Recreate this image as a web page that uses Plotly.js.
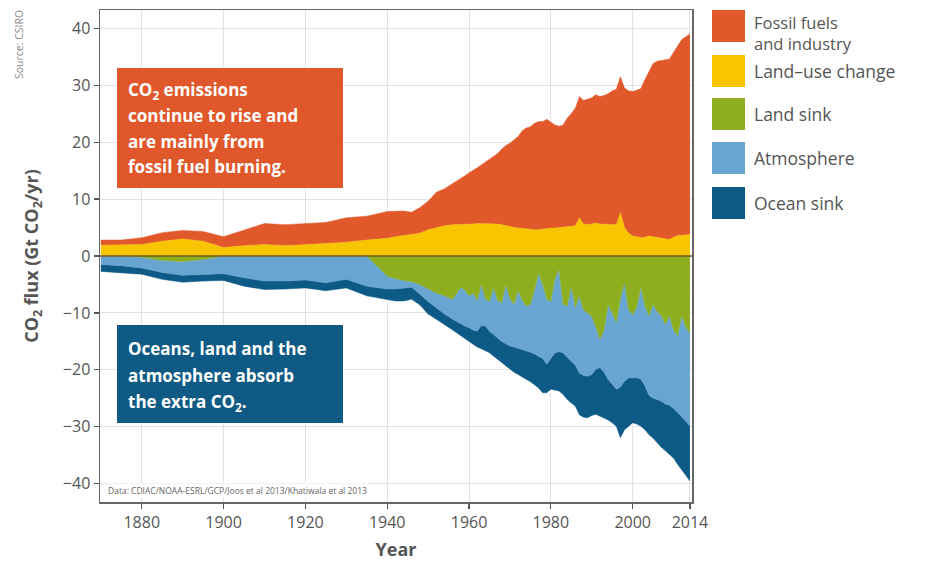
<!DOCTYPE html>
<html>
<head>
<meta charset="utf-8">
<script src="https://cdn.plot.ly/plotly-3.0.1.min.js"></script>
<style>
  html, body { margin: 0; padding: 0; background: #ffffff; }
  #chart { width: 932px; height: 561px; }
</style>
</head>
<body>
<div id="chart"></div>
<script>
// ---- Data (Gt CO2 / yr) ----
const years = [1870,1875,1880,1885,1890,1895,1900,1905,1910,1915,1920,1925,1930,1935,1940,
  1942,1944,1946,1948,1950,1952,1954,1956,1958,
  1959,1960,1961,1962,1963,1964,1965,1966,1967,1968,1969,1970,1971,1972,1973,1974,1975,1976,1977,1978,
  1979,1980,1981,1982,1983,1984,1985,1986,1987,1988,1989,1990,1991,1992,1993,1994,1995,1996,1997,1998,
  1999,2000,2001,2002,2003,2004,2005,2006,2007,2008,2009,2010,2011,2012,2013,2014];

const fossilFuels = [0.9,0.9,1.2,1.5,1.5,1.7,1.9,2.8,3.7,3.7,3.7,3.6,4.3,4.2,4.7,
  4.5,4.3,3.9,4.5,5.0,6.2,6.5,7.2,8.0,
  8.5,9.0,9.4,9.8,10.3,10.8,11.3,12.0,12.4,13.3,14.0,14.6,15.4,16.1,17.2,17.8,18.1,18.7,19.0,18.9,
  19.1,18.6,18.1,17.8,18.0,19.1,19.8,20.7,21.3,21.7,22.0,22.2,22.5,22.4,22.6,23.0,23.5,23.8,23.9,24.5,
  25.0,25.4,25.7,26.2,27.7,29.0,30.4,30.9,31.1,31.4,31.7,32.5,33.4,34.4,34.8,35.2];

const landUseChange = [1.9,1.9,2.0,2.6,3.0,2.6,1.5,1.8,2.0,1.8,2.0,2.3,2.4,2.8,3.1,
  3.4,3.6,3.8,4.0,4.6,5.0,5.3,5.5,5.5,
  5.6,5.6,5.6,5.7,5.7,5.7,5.7,5.6,5.6,5.5,5.4,5.2,5.0,4.9,4.8,4.7,4.6,4.6,4.6,4.7,
  4.9,4.9,4.9,5.0,5.0,5.1,5.2,5.3,6.7,5.6,5.5,5.6,5.8,5.6,5.6,5.5,5.5,5.5,7.6,5.0,
  4.0,3.5,3.4,3.2,3.3,3.5,3.4,3.3,3.2,3.0,2.9,3.3,3.6,3.6,3.7,3.8];

const landSink = [0,0,-0.2,-0.8,-1.0,-0.6,0,0,0,0,0,0,0,0,-3.5,
  -4.0,-4.3,-4.5,-5.0,-5.8,-6.5,-7.0,-7.6,-5.5,
  -6.0,-7.0,-6.5,-7.8,-5.0,-7.5,-8.0,-5.5,-7.8,-8.2,-5.0,-7.5,-8.5,-6.0,-7.8,-8.8,-8.5,-6.0,-3.0,-5.0,
  -7.6,-8.0,-4.0,-2.4,-8.5,-8.8,-5.3,-9.0,-7.0,-9.5,-10.0,-10.6,-12.5,-14.6,-13.0,-8.5,-10.0,-11.7,-7.5,-4.7,
  -9.5,-10.3,-9.0,-5.5,-8.8,-10.5,-8.5,-9.8,-10.5,-12.0,-10.5,-13.0,-14.0,-10.5,-12.5,-13.5];

const atmosphere = [-1.5,-1.7,-1.9,-2.1,-2.4,-2.7,-3.1,-3.8,-4.4,-4.4,-4.2,-4.7,-4.1,-5.3,-2.3,
  -1.8,-1.3,-1.0,-1.7,-2.2,-2.6,-3.2,-3.5,-6.5,
  -6.3,-5.6,-6.5,-5.4,-7.2,-4.8,-5.2,-8.3,-6.6,-6.8,-10.4,-8.3,-7.5,-10.2,-8.6,-7.8,-8.4,-11.2,-14.6,-13.0,
  -11.4,-10.0,-13.0,-14.4,-8.5,-9.0,-13.2,-10.2,-13.6,-11.5,-11.1,-10.2,-7.4,-5.0,-7.4,-13.2,-12.5,-11.7,-15.5,-17.3,
  -11.9,-11.1,-12.4,-16.1,-14.0,-14.0,-16.5,-15.4,-15.0,-14.0,-15.7,-13.8,-13.5,-17.7,-16.5,-16.4];

const oceanSink = [-1.2,-1.2,-1.1,-1.2,-1.2,-1.1,-1.2,-1.5,-1.5,-1.4,-1.4,-1.4,-1.5,-1.7,-1.8,
  -2.1,-2.3,-2.1,-1.9,-2.2,-2.0,-1.8,-1.9,-2.0,
  -2.2,-2.4,-2.5,-2.8,-4.1,-4.3,-3.8,-3.8,-3.7,-3.7,-3.9,-4.1,-4.4,-4.6,-4.8,-5.1,-5.2,-5.4,-5.6,-6.0,
  -5.0,-5.4,-6.5,-6.9,-7.3,-7.4,-7.3,-7.2,-7.3,-7.3,-7.3,-7.2,-7.9,-8.5,-8.1,-7.1,-6.8,-6.5,-8.9,-8.5,
  -8.5,-7.9,-8.1,-8.3,-7.7,-6.9,-7.0,-7.6,-8.1,-8.2,-8.7,-8.7,-9.1,-9.4,-9.5,-9.6];

const xTickVals = [1880,1900,1920,1940,1960,1980,2000,2014];
const yTickVals = [-40,-30,-20,-10,0,10,20,30,40];

const legendNames = ["Fossil fuels<br>and industry","Land–use change","Land sink","Atmosphere","Ocean sink"];
const seriesColors = {fossil:"#e1582b", luc:"#f8c500", land:"#8cae1f", atm:"#68a5d0", ocean:"#0d5a87"};
const legendColors = [seriesColors.fossil, seriesColors.luc, seriesColors.land, seriesColors.atm, seriesColors.ocean];

const emissionsText = ["CO<sub>2</sub> emissions","continue to rise and","are mainly from","fossil fuel burning."];
const sinksText = ["Oceans, land and the","atmosphere absorb","the extra CO<sub>2</sub>."];

// ---- Geometry helpers (plot area in pixels) ----
const W = 932, H = 561;
const PL = 100, PR = 692, PT = 10, PB = 502;
const px2paperX = p => (p - PL) / (PR - PL);
const px2paperY = p => (PB - p) / (PB - PT);

function area(name, y, color, group) {
  return {
    type: "scatter", mode: "lines", x: years, y: y, name: name,
    stackgroup: group, line: {width: 0.5, color: color}, fillcolor: color,
    hoverinfo: "x+y+name"
  };
}

const traces = [
  area("Land-use change", landUseChange, seriesColors.luc, "pos"),
  area("Fossil fuels and industry", fossilFuels, seriesColors.fossil, "pos"),
  area("Land sink", landSink, seriesColors.land, "neg"),
  area("Atmosphere", atmosphere, seriesColors.atm, "neg"),
  area("Ocean sink", oceanSink, seriesColors.ocean, "neg")
];

const FONT = "'Open Sans', 'Noto Sans', sans-serif";
const shapes = [];
const annotations = [];

// zero line above the fills
shapes.push({type:"line", xref:"paper", yref:"y", x0:0, x1:1, y0:0, y1:0,
  line:{color:"#6b5a22", width:1.5}, layer:"above"});

// text boxes
shapes.push({type:"rect", xref:"paper", yref:"paper",
  x0:px2paperX(117), x1:px2paperX(343), y0:px2paperY(188), y1:px2paperY(68),
  fillcolor:"#e0572b", line:{width:0}, layer:"above"});
shapes.push({type:"rect", xref:"paper", yref:"paper",
  x0:px2paperX(117), x1:px2paperX(343), y0:px2paperY(423), y1:px2paperY(325),
  fillcolor:"#0e5a84", line:{width:0}, layer:"above"});

emissionsText.forEach((t, i) => {
  annotations.push({xref:"paper", yref:"paper", x:px2paperX(126), y:px2paperY(90 + i*25.6),
    xanchor:"left", yanchor:"middle", showarrow:false, text:t,
    font:{family:FONT, size:17, color:"#ffffff", weight:"bold"}});
});
sinksText.forEach((t, i) => {
  annotations.push({xref:"paper", yref:"paper", x:px2paperX(126), y:px2paperY(348 + i*27),
    xanchor:"left", yanchor:"middle", showarrow:false, text:t,
    font:{family:FONT, size:17, color:"#ffffff", weight:"bold"}});
});

// data credit
annotations.push({xref:"paper", yref:"paper", x:px2paperX(106), y:px2paperY(490),
  xanchor:"left", yanchor:"middle", showarrow:false, bgcolor:"#ffffff",
  text:"Data: CDIAC/NOAA-ESRL/GCP/Joos et al 2013/Khatiwala et al 2013",
  font:{family:FONT, size:8.5, color:"#666666"}});

// source
annotations.push({xref:"paper", yref:"paper", x:px2paperX(19), y:px2paperY(45),
  xanchor:"center", yanchor:"middle", showarrow:false, textangle:-90,
  text:"Source: CSIRO", font:{family:FONT, size:10.5, color:"#8a8a8a"}});

// legend
const legTop = [10, 55, 98, 142, 187];
legendNames.forEach((t, i) => {
  shapes.push({type:"rect", xref:"paper", yref:"paper",
    x0:px2paperX(712), x1:px2paperX(745), y0:px2paperY(legTop[i] + 32), y1:px2paperY(legTop[i]),
    fillcolor:legendColors[i], line:{width:0}});
  const c = (i === 0) ? 32.5 : legTop[i] + 16;
  annotations.push({xref:"paper", yref:"paper", x:px2paperX(752), y:px2paperY(c),
    xanchor:"left", yanchor:"middle", align:"left", showarrow:false, text:t,
    font:{family:FONT, size:(i === 0 ? 16.5 : 17.5), color:"#555555"}});
});

const layout = {
  width: W, height: H,
  margin: {l: PL, r: W - PR, t: PT, b: H - PB, pad: 0},
  paper_bgcolor: "#ffffff", plot_bgcolor: "#ffffff",
  showlegend: false,
  font: {family: FONT, color: "#555555"},
  xaxis: {
    range: [1869.8, 2014.5], tickvals: xTickVals, ticktext: xTickVals.map(String),
    ticks: "outside", ticklen: 5, tickwidth: 1.2, tickcolor: "#555555",
    showline: true, linecolor: "#666666", linewidth: 1.5, mirror: true,
    showgrid: true, gridcolor: "#e2e2e2", gridwidth: 1, zeroline: false,
    tickfont: {size: 16, color: "#555555"},
    title: {text: "Year", font: {size: 18, color: "#555555", weight: "bold"}, standoff: 12}
  },
  yaxis: {
    range: [-43.2, 43.2], tickvals: yTickVals,
    ticks: "outside", ticklen: 5, tickwidth: 1.2, tickcolor: "#555555",
    showline: true, linecolor: "#666666", linewidth: 1.5, mirror: true,
    showgrid: true, gridcolor: "#e2e2e2", gridwidth: 1, zeroline: false,
    tickfont: {size: 16, color: "#555555"},
    title: {text: "CO<sub>2</sub> flux (Gt CO<sub>2</sub>/yr)", font: {size: 18, color: "#555555", weight: "bold"}, standoff: 19}
  },
  shapes: shapes,
  annotations: annotations
};

Plotly.newPlot("chart", traces, layout, {displayModeBar: false, staticPlot: true});
</script>
</body>
</html>
